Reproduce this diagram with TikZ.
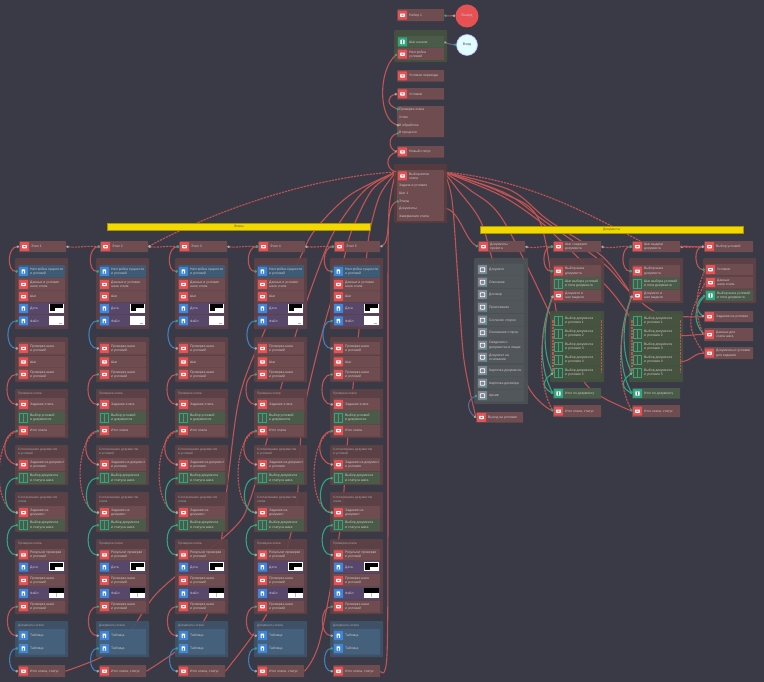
\documentclass[tikz,border=0pt]{standalone}
\usepackage{fontspec}
\setmainfont{Liberation Sans}
\usetikzlibrary{arrows.meta,positioning}
\definecolor{bgc}{HTML}{3A3A46}
\definecolor{rowr}{HTML}{6E4C4F}
\definecolor{grpr}{HTML}{5F4145}
\definecolor{grpd}{HTML}{583A3E}
\definecolor{icr}{HTML}{E65254}
\definecolor{icb}{HTML}{3F86D8}
\definecolor{rowb}{HTML}{3E5B76}
\definecolor{rowp}{HTML}{57476B}
\definecolor{rowg}{HTML}{4A5B49}
\definecolor{grpg}{HTML}{45533F}
\definecolor{grpb}{HTML}{40546A}
\definecolor{rowbb}{HTML}{44607A}
\definecolor{grpgr}{HTML}{4C5255}
\definecolor{rowgr}{HTML}{51575B}
\definecolor{icgr}{HTML}{7D8796}
\definecolor{teal1}{HTML}{2FA67F}
\definecolor{wred}{HTML}{C05454}
\definecolor{wblue}{HTML}{3F7FBF}
\definecolor{txt}{HTML}{CFC8C8}
\definecolor{yel}{HTML}{F0D800}
\pgfdeclarelayer{bgA}\pgfdeclarelayer{wires}\pgfsetlayers{bgA,wires,main}
\tikzset{
 x=1pt,y=-1pt,
 rowbox/.style={rectangle,rounded corners=.6pt,inner sep=0pt,anchor=north west,draw=none},
 grpbox/.style={rectangle,rounded corners=1pt,inner sep=0pt,anchor=north west,draw=none,fill opacity=.9},
 rowtxt/.style={inner sep=0pt,anchor=west,align=left,text=txt,font=\fontsize{3.4}{4.2}\selectfont},
 ttl/.style={inner sep=0pt,anchor=west,align=left,text=txt!75!bgc,font=\fontsize{3.2}{4.1}\selectfont},
 iconr/.style={rectangle,rounded corners=.5pt,inner sep=0pt,minimum width=9pt,minimum height=9pt,fill=icr,
   path picture={\fill[white] ([xshift=-2.4pt,yshift=-1.6pt]path picture bounding box.center) rectangle ([xshift=2.4pt,yshift=1.6pt]path picture bounding box.center);
   \fill[icr] ([xshift=-1.2pt,yshift=-.4pt]path picture bounding box.center) rectangle ([xshift=1.2pt,yshift=.6pt]path picture bounding box.center);}},
 iconb/.style={iconr,fill=icb,path picture={\fill[white] ([xshift=-2pt,yshift=-2.2pt]path picture bounding box.center) rectangle ([xshift=1.6pt,yshift=2pt]path picture bounding box.center);
   \fill[icb] ([xshift=-.8pt,yshift=-2.2pt]path picture bounding box.center) rectangle ([xshift=.4pt,yshift=.4pt]path picture bounding box.center);}},
 icong/.style={rectangle,inner sep=0pt,minimum width=8.5pt,minimum height=9pt,draw=teal1,line width=.7pt,
   path picture={\draw[teal1,line width=.7pt] (path picture bounding box.north) -- (path picture bounding box.south);}},
 icongg/.style={iconr,fill=teal1,path picture={\fill[white] ([xshift=-2.2pt,yshift=-2.2pt]path picture bounding box.center) rectangle ([xshift=2.2pt,yshift=2.2pt]path picture bounding box.center);
   \fill[teal1] ([xshift=-.3pt,yshift=-2.2pt]path picture bounding box.center) rectangle ([xshift=.3pt,yshift=2.2pt]path picture bounding box.center);}},
 icongr/.style={iconr,fill=icgr,path picture={\draw[white,line width=.8pt] ([xshift=-2.2pt,yshift=-2pt]path picture bounding box.center) rectangle ([xshift=2.2pt,yshift=2pt]path picture bounding box.center);}},
 wire/.style={draw=wred,line width=1.1pt},
 dwire/.style={wire,dash pattern=on 2.2pt off 1pt},
 twire/.style={draw=teal1,line width=1.1pt},
 bwire/.style={draw=wblue,line width=1.1pt},
 gwire/.style={draw=gray!80!blue,line width=1pt},
 portg/.style={{Circle[length=2.4pt,color=gray!70]}-{Circle[length=2.6pt,color=teal1]}},
 portb/.style={{Circle[length=2.4pt,color=teal1]}-{Circle[length=2.4pt,color=gray!70]}},
 sm/.style={smooth,tension=.55},
 circ/.style={circle,inner sep=0pt,font=\fontsize{3.6}{4}\selectfont},
 bar/.style={rectangle,inner sep=0pt,anchor=north west,fill=yel,draw=yel!70!black,line width=.4pt,text=yel!40!black,font=\fontsize{3.3}{4}\selectfont},
}
% name, x, y, w, h, fill, icon style, text
\newcommand{\RW}[8]{%
 \node[rowbox,fill=#6,minimum width=#4pt,minimum height=#5pt] (#1) at (#2,#3) {};
 \node[#7] (#1i) at ([xshift=5.5pt]#1.west) {};
 \node[rowtxt] (#1t) at ([xshift=12pt]#1.west) {#8};}
\newcommand{\GR}[6]{\node[grpbox,fill=#6,minimum width=#4pt,minimum height=#5pt] (#1) at (#2,#3) {};}
% thumbnail kinds
\newcommand{\THA}[2]{\fill[white] (#1,#2) rectangle ++(15,9); \fill[black] (#1+.7,#2+.7) rectangle ++(13.6,4); \fill[black] (#1+.7,#2+.7) rectangle ++(5,7);}
\newcommand{\THB}[2]{\fill[white] (#1,#2) rectangle ++(15,9); \fill[gray!60] (#1+10,#2+6.5) rectangle ++(3,1);}
\newcommand{\THD}[2]{\fill[white] (#1,#2) rectangle ++(15,9.5); \fill[black] (#1,#2) rectangle ++(15,4.5); \fill[gray!50] (#1+7,#2+5) rectangle ++(.6,4);}
\begin{document}
\begin{tikzpicture}
\begin{pgfonlayer}{bgA}
\fill[bgc] (0,0) rectangle (764,682);
\end{pgfonlayer}
\useasboundingbox (0,0) rectangle (764,682);

% ---------- top stack
\RW{t1}{397}{9}{47}{12}{rowr}{iconr}{Набор 1}
\node[circ,minimum size=23pt,fill=icr,text=txt] (cr) at (467,16) {Выход};
\GR{tg}{394}{30}{53}{32}{grpg}
\RW{t2}{397}{36}{47}{11.5}{rowg}{icongg}{Шаг начала}
\RW{t2b}{397}{48}{47}{12}{rowr}{iconr}{Настройка\\условий}
\node[circ,minimum size=21pt,fill=blue!10!cyan!12!white,draw=blue!30!white,line width=.6pt,text=black!70] (cb) at (467,45) {Вход};
\RW{t3}{397}{70}{47}{11.5}{rowr}{iconr}{Условие перехода}
\RW{t4}{397}{88}{47}{11.5}{rowr}{iconr}{Условие}
\node[rowbox,fill=rowr,minimum width=47pt,minimum height=31pt] (t5) at (397,106) {};
\node[rowtxt] (l1) at (399,109.5) {Проверка этапа};
\node[rowtxt] (l2) at (399,117.5) {Успех};
\node[rowtxt] (l3) at (399,125.5) {В обработке};
\node[rowtxt] (l4) at (399,133) {В процессе};
\RW{t6}{397}{146}{47}{11.5}{rowr}{iconr}{Новый статус}
\GR{tbig}{394}{164}{53}{59}{grpd}
\node[rowbox,fill=rowr,minimum width=47pt,minimum height=51pt] (tin) at (397,170) {};
\node[iconr] (t7i) at (402.5,176) {};
\node[rowtxt] (t7t) at (409,176) {Выбор ветки\\этапа};
\node[rowtxt] (m1) at (399,185.5) {Задача и условия};
\node[rowtxt] (m2) at (399,193) {Шаг 1};
\node[rowtxt] (m3) at (399,201) {Этапы};
\node[rowtxt] (m4) at (399,209) {Документы};
\node[rowtxt] (m5) at (399,217) {Завершение этапа};
\coordinate (srcW) at (396,172);
\coordinate (srcE) at (444,172);
\node[bar,minimum width=263pt,minimum height=7pt] (yL) at (107,223) {Этапы};
\node[bar,minimum width=263pt,minimum height=7pt] (yR) at (480,226) {Документы};

% ---------- five columns
\foreach \c/\xo/\hw in {1/15/47,2/96/48,3/175/48,4/254/47,5/330/46}{
\begin{scope}[shift={(\xo,0)}]
 \RW{h\c}{4}{241}{\hw}{11}{rowr}{iconr}{Этап \c}
 \GR{g\c a}{0}{258}{53}{71}{grpr}
 \RW{g\c r1}{3}{265}{47}{12.5}{rowb}{iconb}{Настройка сущности\\и условий}
 \RW{g\c r2}{3}{278}{47}{12.5}{rowr}{iconr}{Данные и условия\\шага этапа}
 \RW{g\c r3}{3}{291}{47}{11}{rowr}{iconr}{Шаг}
 \RW{g\c r4}{3}{302.5}{47}{11.5}{rowp}{iconb}{Дата}
 \RW{g\c r5}{3}{315}{47}{11.5}{rowp}{iconb}{Файл}
 \THA{34}{303.5}
 \THB{34}{316}
 \GR{g\c b}{0}{337}{53}{45}{grpr}
 \RW{g\c b1}{3}{342}{47}{12.5}{rowr}{iconr}{Проверка шага\\и условий}
 \RW{g\c b2}{3}{356}{47}{11.5}{rowr}{iconr}{Шаг}
 \RW{g\c b3}{3}{368}{47}{12.5}{rowr}{iconr}{Проверка шага\\и условий}
 \GR{g\c c}{0}{389}{53}{49}{grpr}
 \node[ttl] (g\c ct) at (3,394) {Проверка этапа};
 \RW{g\c c1}{3}{398}{47}{12.5}{rowr}{iconr}{Задание этапа}
 \RW{g\c c2}{3}{411}{47}{13}{rowg}{icong}{Выбор условий\\и документов}
 \RW{g\c c3}{3}{424.5}{47}{12}{rowr}{iconr}{Итог этапа}
 \GR{g\c d}{0}{445}{53}{40}{grpr}
 \node[ttl] (g\c dt) at (3,452) {Согласование документов\\и условий};
 \RW{g\c d1}{3}{458}{47}{13}{rowr}{iconr}{Задание на документ\\и условия}
 \RW{g\c d2}{3}{472}{47}{12}{rowg}{icong}{Выбор документа\\и статуса шага}
 \GR{g\c e}{0}{492}{53}{40}{grpr}
 \node[ttl] (g\c et) at (3,499) {Согласование документов\\этапа};
 \RW{g\c e1}{3}{506}{47}{13}{rowr}{iconr}{Задание на\\документ}
 \RW{g\c e2}{3}{519}{47}{12}{rowg}{icong}{Выбор документа\\и статуса шага}
 \GR{g\c f}{0}{539}{53}{75}{grpr}
 \node[ttl] (g\c ft) at (3,544) {Проверка этапа};
 \RW{g\c f1}{3}{549}{47}{11.5}{rowr}{iconr}{Результат проверки\\и условий}
 \RW{g\c f2}{3}{561}{47}{12}{rowp}{iconb}{Дата}
 \RW{g\c f3}{3}{574}{47}{12.5}{rowr}{iconr}{Проверка шага\\и условий}
 \RW{g\c f4}{3}{587}{47}{12.5}{rowp}{iconb}{Файл}
 \RW{g\c f5}{3}{600.5}{47}{12}{rowr}{iconr}{Проверка шага\\и условий}
 \THA{34}{562}
 \THD{34}{588}
 \GR{g\c g}{0}{621}{53}{36}{grpb}
 \node[ttl] (g\c gt) at (3,625.5) {Документы этапа};
 \RW{g\c g1}{3}{629}{47}{13}{rowbb}{iconb}{Таблица}
 \RW{g\c g2}{3}{642}{47}{12.5}{rowbb}{iconb}{Таблица}
 \RW{fin\c}{3}{665}{47}{12}{rowr}{iconr}{Итог этапа, статус}
\end{scope}
\draw[wire,portg] (h\c.west) to[out=180,in=180,looseness=1.2] (g\c r1.west);
\draw[bwire,portb] (g\c r5.west) to[out=180,in=180,looseness=1.2] (g\c b1.west);
\draw[wire,portb] (g\c b3.west) to[out=180,in=180,looseness=1.2] (g\c c1.west);
\draw[wire,portb] (g\c c3.west) to[out=190,in=170,looseness=1.3] (g\c d1.west);
\draw[dwire,portb] (g\c c3.west) to[out=200,in=170,looseness=.8] (g\c e1.west);
\draw[twire,portb] (g\c d2.west) to[out=180,in=180,looseness=1.2] (g\c e1.west);
\draw[twire,portb] (g\c e2.west) to[out=180,in=180,looseness=1.2] (g\c f1.west);
\draw[wire,portb] (g\c f5.west) to[out=180,in=180,looseness=1.2] (g\c g1.west);
\draw[bwire,portb] (g\c g2.west) to[out=180,in=180,looseness=1.2] (fin\c.west);
}
% header chain
\draw[dwire,portg] (h1.east) to[out=-5,in=175] (h2.west);
\draw[dwire,portg] (h2.east) to[out=-5,in=175] (h3.west);
\draw[dwire,portg] (h3.east) to[out=-5,in=175] (h4.west);
\draw[dwire,portg] (h4.east) to[out=-5,in=175] (h5.west);
\draw[wire,portg] (h5.east) .. controls (392,242) and (384,205) .. (m3.west);

% ---------- right side : column A
\RW{hA}{478}{241}{47}{11}{rowr}{iconr}{Документы\\проекта}
\GR{ga}{474}{258}{54}{146}{grpgr}
\foreach \n/\yy/\lb in {1/263.5/Документ,2/276/Описание,3/288.5/Договор,4/301/Приложение,5/314/Согласие сторон,6/326.5/Основание сторон,7/339/Сведения о\\документах и лицах,8/351/Документ на\\основании,9/364.5/Карточка документа,10/377/Карточка договора,11/389.5/Архив}{
 \RW{a\n}{477}{\yy}{47}{12}{rowgr}{icongr}{\lb}
 \fill[teal1] ([xshift=2.6pt,yshift=-3pt]a\n i.center) rectangle ++(2,1.5);
}
\RW{finA}{476}{412}{47}{10.5}{rowr}{iconr}{Выход на условие}

% ---------- right columns B and C
\foreach \k/\xo/\hl in {B/553/Шаг создания\\документа,C/632/Шаг выдачи\\документа}{
\begin{scope}[shift={(\xo,0)}]
 \RW{h\k}{0}{241}{48}{11}{rowr}{iconr}{\hl}
 \GR{g\k}{-3}{258}{54}{45}{grpr}
 \RW{\k 1}{0}{265}{48}{12}{rowr}{iconr}{Выбор шага\\документа}
 \RW{\k 2}{0}{277}{48}{12.5}{rowg}{icong}{Шаг выбора условий\\и типа документа}
 \RW{\k 3}{0}{290}{48}{11}{rowr}{iconr}{Документ и\\шаг выдачи}
 \GR{g\k g}{-3}{311}{54}{71}{grpg}
 \RW{\k g1}{0}{314}{48}{12.5}{grpg}{icong}{Выбор документа\\и условия 1}
 \RW{\k g2}{0}{327}{48}{12.5}{grpg}{icong}{Выбор документа\\и условия 2}
 \RW{\k g3}{0}{340}{48}{12.5}{grpg}{icong}{Выбор документа\\и условия 3}
 \RW{\k g4}{0}{353}{48}{12.5}{grpg}{icong}{Выбор документа\\и условия 4}
 \RW{\k g5}{0}{366.5}{48}{12.5}{grpg}{icong}{Выбор документа\\и условия 5}
 \RW{\k t}{0}{388}{48}{10.5}{rowg}{icongg}{Итог по документу}
 \RW{fin\k}{0}{405}{48}{12}{rowr}{iconr}{Итог этапа, статус}
\end{scope}
\draw[wire,portg] (h\k.west) to[out=180,in=180,looseness=1.2] (\k 1.west);
\draw[dwire] (\k g1.east) -- (\k g5.east);
\draw[dwire] (\k g1.west) -- (\k g5.west);
\draw[twire,portb] (\k t.west) .. controls +(-11,-6) and +(-11,8) .. (\k g5.west);
\draw[twire,portb] (\k t.west) .. controls +(-16,-30) and +(-12,30) .. (\k 3.west);
\draw[twire] (\k g5.west) .. controls +(-12,-20) and +(-9,20) .. (\k 3.west);
\draw[dwire,portb] (fin\k.west) .. controls +(-16,-30) and +(-14,40) .. (\k 3.west);
}
\draw[dwire,portg] (hA.east) to[out=-10,in=175] (hB.west);
\draw[dwire,portg] (hB.east) to[out=-10,in=175] (hC.west);

% ---------- column D
\RW{hD}{704}{241}{49}{11}{rowr}{iconr}{Выбор условий}
\GR{gD}{703}{258}{53}{45}{grpr}
\RW{D1}{705}{264}{48}{11}{rowr}{iconr}{Условие}
\RW{D2}{705}{276.5}{48}{12}{rowr}{iconr}{Данные\\шага этапа}
\RW{D3}{705}{289.5}{48}{11.5}{rowg}{icongg}{Выбор шага условий\\и типа документа}
\RW{D4}{704}{311}{49}{11}{rowr}{iconr}{Задание на условие}
\RW{D5}{704}{328}{49}{13}{rowr}{iconr}{Данные для\\этапа шага}
\RW{D6}{704}{347}{49}{12}{rowr}{iconr}{Документы и условия\\для задания}
\draw[dwire,portg] (hC.east) to[out=-10,in=175] (hD.west);
\draw[wire] (hC.east) to[out=10,in=-170] (hD.west);
\draw[wire,portg] (hD.west) to[out=180,in=180,looseness=1.2] (D1.west);
\draw[twire,portb] (D3.west) .. controls +(-9,6) and +(-9,-6) .. (D4.west);
\draw[twire,portb] (D3.west) .. controls +(-12,14) and +(-10,-12) .. (D5.west);
\draw[dwire] (D5.west) .. controls +(-12,-22) and +(-8,18) .. (D1.west);
\draw[dwire] (D6.west) .. controls +(-22,-30) and +(-14,30) .. (D2.west);
\draw[wire] ([yshift=-2pt]Cg2.east) to[out=-5,in=175] (D5.west);
\draw[wire] ([yshift=-2pt]Cg4.east) to[out=-5,in=175] (D6.west);

% ---------- top wires
\draw[wire,portb] (t1.east) to[out=-20,in=170] (cr.west);
\draw[gwire,{Circle[length=2.2pt,color=gray!70]}-{Circle[length=2.4pt,color=teal1]}] (t2.east) to[out=-30,in=170] (cb.west);
\draw[wire,portb] (t2b.west) .. controls (378,70) and (378,120) .. (l3.west);
\draw[wire,portg] (t4.west) .. controls (387,96) and (386,105) .. (l1.west);
\draw[wire,portb] (l4.west) .. controls (388,136) and (388,148) .. (t6.west);
\draw[wire] (t6.west) .. controls (384,155) and (386,170) .. (srcW);
\draw[gwire,portb] (a11.west) .. controls (465,400) and (468,412) .. (finA.west);

% ---------- long wires beneath the groups
\begin{pgfonlayer}{wires}
\draw[dwire,portb] (srcW) .. controls (300,178) and (200,218) .. (h2.east);
\draw[wire] plot[sm] coordinates {(fin1.east) (105,655) (131,630) (160,590) (232,530) (250,500) (268,436) (283,380) (297,330) (318,270) (335,230) (365,190) (srcW)};
\draw[wire] plot[sm] coordinates {(fin2.east) (175,652) (198,630) (215,590) (228,480) (240,395) (265,330) (298,262) (315,230) (350,195) (srcW)};
\draw[wire] plot[sm] coordinates {(fin3.east) (269,610) (288,545) (297,500) (303,417) (323,330) (343,262) (352,230) (372,190) (srcW)};
\draw[wire] plot[sm] coordinates {(fin4.east) (320,640) (340,530) (348,436) (359,330) (366,262) (370,230) (380,195) (srcW)};
\draw[wire] plot[sm] coordinates {(fin5.east) (387,655) (388,500) (388,300) (389,210) (srcW)};
% east fan
\draw[wire,portg] (m5.east -| tin.east) ++(0,-9) .. controls (460,212) and (465,240) .. (hA.west);
\draw[wire] plot[sm] coordinates {(srcE) (458,190) (480,220) (493,262) (525,380) (finB.west)};
\draw[wire] plot[sm] coordinates {(srcE) (470,190) (503,220) (Bg1.west)};
\draw[wire] plot[sm] coordinates {(srcE) (500,195) (538,220) (560,240) (610,290) (Cg1.west)};
\draw[wire] plot[sm] coordinates {(srcE) (505,193) (543,220) (603,263) (630,292) (660,314) (D4.west)};
\draw[wire] plot[sm] coordinates {(srcE) (510,190) (548,220) (603,257) (C3.west)};
\draw[wire] plot[sm] coordinates {(srcE) (500,192) (540,222) (560,330) (583,380) (602,397) (finC.west)};
\draw[wire] plot[sm] coordinates {(srcE) (452,200) (458,280) (464,360) (finA.west)};
\draw[dwire] (srcE) .. controls (530,180) and (590,215) .. ([xshift=-16pt]hC.north);
\end{pgfonlayer}
\end{tikzpicture}
\end{document}
